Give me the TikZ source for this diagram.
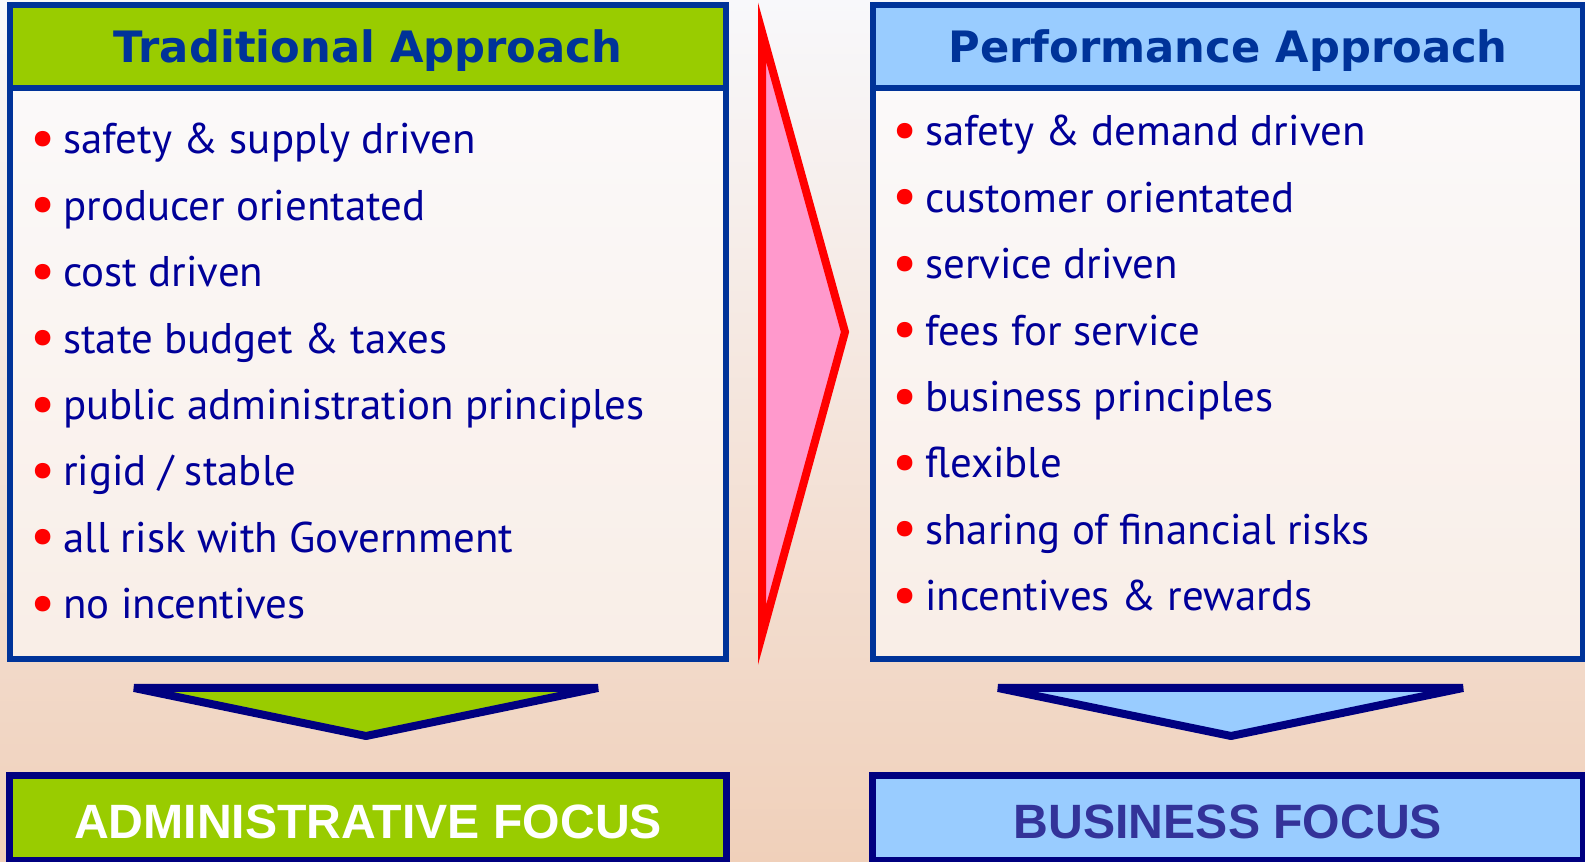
\documentclass[tikz,border=0pt]{standalone}
\usepackage{fontspec}
\setmainfont{PT Sans}
\setsansfont{Liberation Sans}
\newfontfamily\headfont{DejaVu Sans}
\usetikzlibrary{calc}

\definecolor{hdgreen}{HTML}{99CC00}
\definecolor{hdblue}{HTML}{99CCFF}
\definecolor{boxline}{HTML}{003399}
\definecolor{arrline}{HTML}{000080}
\definecolor{itemblue}{HTML}{000099}
\definecolor{pinkfill}{HTML}{FF99CC}
\definecolor{focusblue}{HTML}{333399}
\definecolor{skytop}{HTML}{F8F8FB}
\definecolor{skymid}{HTML}{E4E2EA}
\definecolor{skylow}{HTML}{F0D0BA}

\newcommand{\itembul}{\textcolor{red}{\raisebox{-0.06em}{\scalebox{1.3}{\textbullet}}}\hspace{0.08cm}}

\begin{document}
\begin{tikzpicture}[x=0.01cm,y=-0.01cm,inner sep=0pt,outer sep=0pt,
	head/.style={rectangle,draw=boxline,line width=0.055cm,minimum height=0.83cm,
		text height=0.316cm,text depth=0cm,text=boxline,font=\headfont\bfseries\fontsize{12.3}{15}\selectfont},
	panel/.style={rectangle,draw=boxline,line width=0.055cm,fill=white,fill opacity=0.55,
		minimum height=5.71cm},
	item/.style={anchor=base west,text=itemblue,font=\fontsize{12.2}{15}\selectfont},
	focus/.style={rectangle,draw=arrline,line width=0.07cm,minimum height=0.84cm,
		text height=0.417cm,text depth=0cm,font=\sffamily\bfseries\fontsize{13.7}{16}\selectfont},
	down/.style={draw=arrline,line width=0.08cm,line join=bevel}]
	\useasboundingbox (0,0) rectangle (1585,862);
	\shade[top color=skytop,middle color=skymid,bottom color=skylow] (0,0) rectangle (1585,862);
	% left column
	\node[panel,minimum width=7.16cm] (tradBody) at (368,373.5) {};
	\node[head,fill=hdgreen,minimum width=7.16cm] (tradHead) at (368,46.5) {Traditional Approach};
	\foreach \txt [count=\i from 0] in {safety \& supply driven,producer orientated,cost driven,
		state budget \& taxes,public administration principles,rigid / stable,
		all risk with Government,no incentives}
		\node[item] (tradItem\i) at (30,154+66.4*\i) {\itembul\txt};
	% right column
	\node[panel,minimum width=7.10cm] (perfBody) at (1228,373.5) {};
	\node[head,fill=hdblue,minimum width=7.10cm] (perfHead) at (1228,46.5) {Performance Approach};
	\foreach \txt [count=\i from 0] in {safety \& demand driven,customer orientated,service driven,
		fees for service,business principles,flexible,
		sharing of financial risks,incentives \& rewards}
		\node[item] (perfItem\i) at (892,146+66.4*\i) {\itembul\txt};
	% change arrow
	\draw[red,line width=0.08cm,fill=pinkfill] (762,32) -- (845,332) -- (762,635) -- cycle;
	% outcome
	\draw[down,fill=hdgreen] (134,688) -- (598,688) -- (366,736) -- cycle;
	\draw[down,fill=hdblue] (998,688) -- (1463,688) -- (1231,736) -- cycle;
	\node[focus,fill=hdgreen,minimum width=7.16cm,text=white] (adminFocus) at (368,818) {ADMINISTRATIVE FOCUS};
	\node[focus,fill=hdblue,minimum width=7.10cm,text=focusblue] (busFocus) at (1228,818) {BUSINESS FOCUS};
\end{tikzpicture}
\end{document}
